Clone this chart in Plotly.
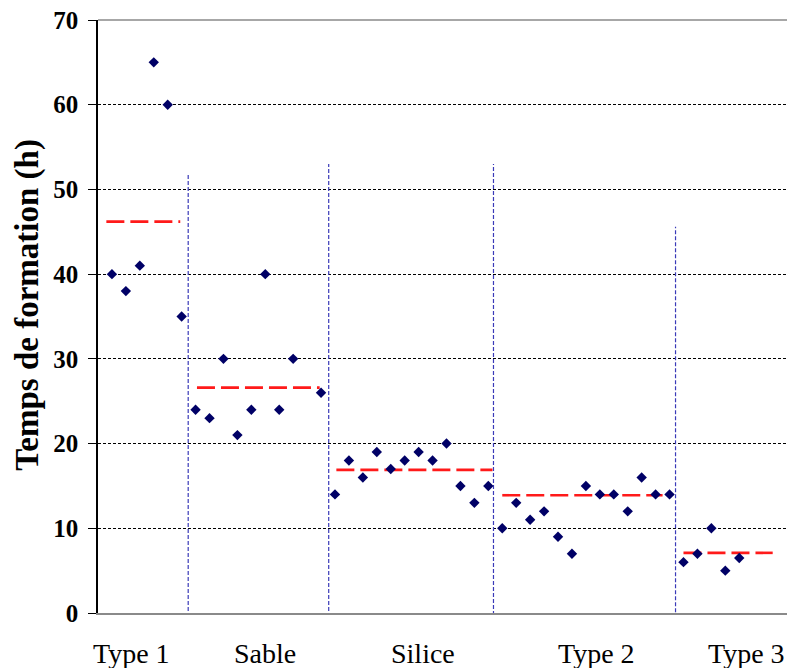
import plotly.graph_objects as go

# ---- data ----
categories = ["Type 1", "Sable", "Silice", "Type 2", "Type 3"]
type1 = [40, 38, 41, 65, 60, 35]
sable = [24, 23, 30, 21, 24, 40, 24, 30, None, 26]
silice = [14, 18, 16, 19, 17, 18, 19, 18, 20, 15, 13, 15]
type2 = [10, 13, 11, 12, 9, 7, 15, 14, 14, 12, 16, 14, 14]
type3 = [6, 7, 10, 5, 6.5]
group_means = [46.2, 26.6, 16.9, 13.9, 7.1]
mean_start = [0.6, 7.1, 17.1, 29.0, 42.0]
mean_end = [5.9, 15.9, 28.3, 40.5, 48.4]
separators_x = [6.47, 16.55, 28.37, 41.43]
separators_top = [51.9, 53.0, 53.0, 45.6]
separators_bottom = [-2.6, -2.6, -1.65, -1.34]
label_x = [2.42, 11.98, 23.34, 35.77, 46.55]
y_ticks = [0, 10, 20, 30, 40, 50, 60, 70]
y_title = "Temps de formation (h)"

groups = [type1, sable, silice, type2, type3]
values = [v for g in groups for v in g]
xs = list(range(1, len(values) + 1))

fig = go.Figure()

# separators
for sx, st, sb in zip(separators_x, separators_top, separators_bottom):
    fig.add_trace(go.Scatter(x=[sx, sx], y=[sb, st], mode="lines",
                             line=dict(color="#3a3ab8", width=1.2, dash="4px,2px"),
                             cliponaxis=False, hoverinfo="skip", showlegend=False))

# mean lines
for m, a, b in zip(group_means, mean_start, mean_end):
    fig.add_trace(go.Scatter(x=[a, b], y=[m, m], mode="lines",
                             line=dict(color="#ff1a1a", width=2.6, dash="18px,6px"),
                             hoverinfo="skip", showlegend=False))

# points
fig.add_trace(go.Scatter(x=xs, y=values, mode="markers",
                         marker=dict(symbol="diamond", size=8, color="#000066"),
                         cliponaxis=False, showlegend=False))

for lx, cat in zip(label_x, categories):
    fig.add_annotation(x=lx, y=0, xref="x", yref="y", text=cat, showarrow=False,
                       yanchor="middle", yshift=-40, borderpad=0,
                       font=dict(family="Liberation Serif", size=28, color="black"))

# y axis title
fig.add_annotation(x=0, y=0.52, xref="paper", yref="paper", text=y_title,
                   showarrow=False, textangle=-90, xanchor="center", yanchor="middle",
                   xshift=-70,
                   font=dict(family="Liberation Serif", size=33, color="black", weight="bold"))

# top border of the plot area
fig.add_shape(type="line", xref="paper", yref="paper", x0=0, x1=1, y0=1, y1=1,
              line=dict(color="#8a8a8a", width=1.5))

# the page body adds an 8px margin, so the figure is 8px smaller than the window
fig.update_layout(
    width=787, height=660,
    margin=dict(l=90, r=0, t=12, b=55, autoexpand=False),
    paper_bgcolor="white", plot_bgcolor="white",
    showlegend=False,
    xaxis=dict(range=[0, 50], showgrid=False, zeroline=False, showticklabels=False,
               showline=True, linecolor="#8a8a8a", linewidth=1.5, ticks="",
               automargin=False),
    yaxis=dict(range=[0, 70], tickvals=y_ticks, showgrid=True, gridcolor="black",
               gridwidth=1, griddash="3px,2px", zeroline=False, automargin=False,
               showline=True, linecolor="black", linewidth=1.5,
               ticks="outside", ticklen=8, tickcolor="black", tickwidth=1,
               ticklabelstandoff=5, ticklabeloverflow="allow",
               tickfont=dict(family="Liberation Serif", size=25, color="black", weight="bold")),
)

fig.write_html("out.html")
